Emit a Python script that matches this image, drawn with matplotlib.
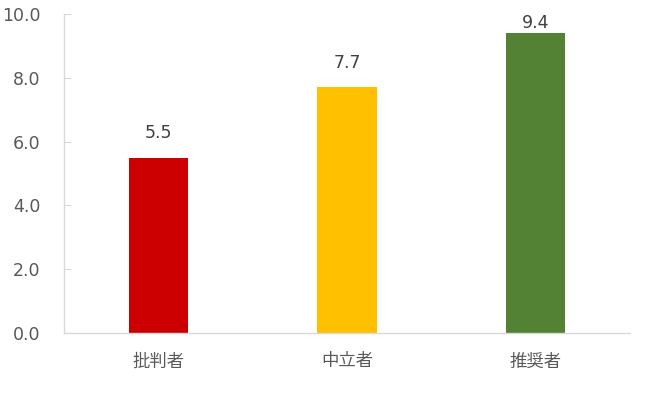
import matplotlib
matplotlib.use("Agg")
import matplotlib.pyplot as plt

categories = ["批判者", "中立者", "推奨者"]
values = [5.5, 7.7, 9.4]
colors = ["#CC0000", "#FFC000", "#548235"]
yticks = [0, 2, 4, 6, 8, 10]

plt.rcParams['font.family'] = ['DejaVu Sans', 'Noto Sans CJK JP']

fig = plt.figure(figsize=(6.49, 3.97), dpi=100)
ax = fig.add_axes([64/649, 1-333/397, (630-64)/649, (333-14)/397])

x = list(range(len(categories)))
bars = ax.bar(x, values, width=0.315, color=colors)
ax.set_xlim(-0.5, 2.5)
ax.set_ylim(0, 10)
ax.set_yticks(yticks)
ax.set_yticklabels([f"{v:.1f}" for v in yticks])
ax.set_xticks(x)
ax.set_xticklabels(categories, family=['Noto Sans CJK JP'], fontsize=12.5, color="#595959")

for s in ["top", "right"]:
    ax.spines[s].set_visible(False)
for s in ["left", "bottom"]:
    ax.spines[s].set_color("#D9D9D9")
    ax.spines[s].set_linewidth(1)

ax.tick_params(axis='y', direction='in', length=5, color="#D9D9D9", labelsize=12.5,
               labelcolor="#595959", pad=17)
ax.tick_params(axis='x', length=0, pad=14)

texts = []
for xi, v in zip(x, values):
    t = ax.annotate(f"{v:.1f}", (xi, v), xytext=(0, 11), textcoords="offset points",
                    ha="center", va="bottom", fontsize=12.5, color="#404040")
    texts.append(t)

# Keep labels inside plot area (as Excel does)
fig.canvas.draw()
r = fig.canvas.get_renderer()
axtop = ax.get_window_extent(r).y1
for t in texts:
    bb = t.get_window_extent(r)
    if bb.y1 > axtop:
        dy = (bb.y1 - axtop) * 72 / fig.dpi
        ox, oy = t.xyann
        t.xyann = (ox, oy - dy)

fig.savefig("out.png", dpi=100)
